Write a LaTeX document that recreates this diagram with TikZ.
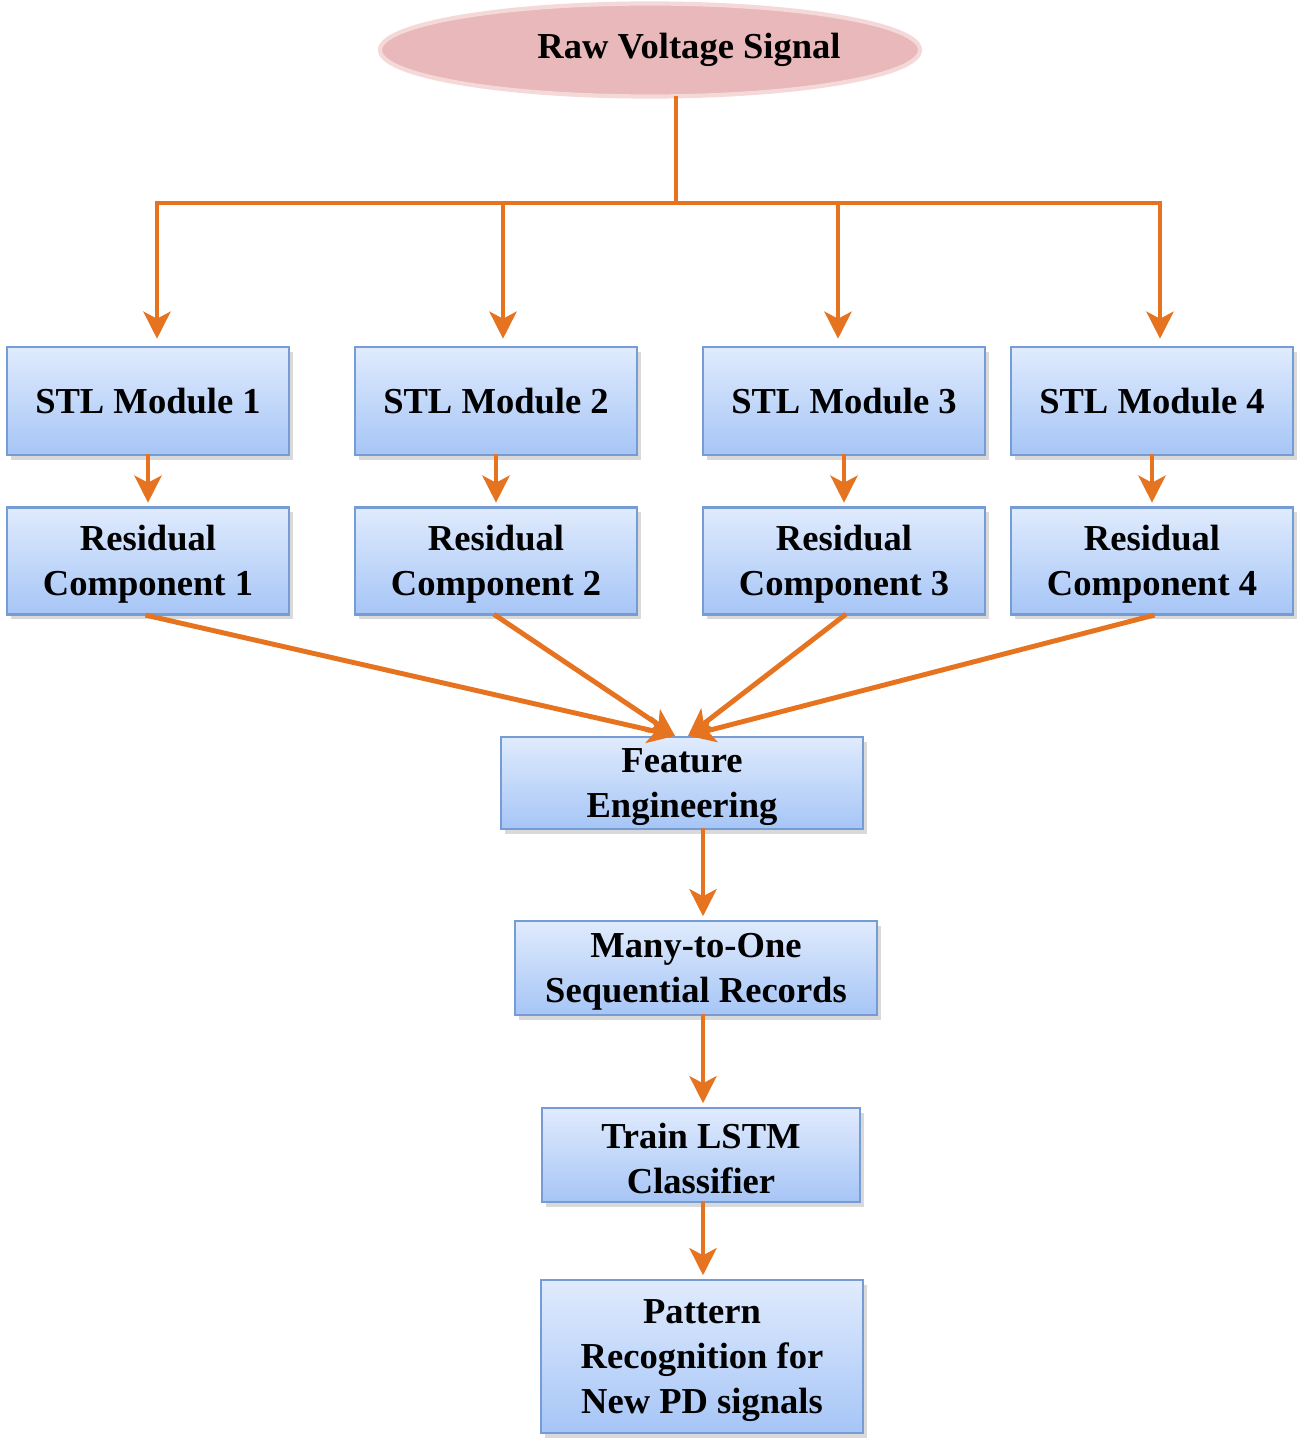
\documentclass[tikz,border=0pt]{standalone}
\usepackage{fontspec}
\setmainfont{Liberation Serif}
\usetikzlibrary{shapes.geometric, arrows.meta, positioning, shadows}
\definecolor{lineOrange}{RGB}{230,115,32}
\definecolor{boxTop}{RGB}{224,235,253}
\definecolor{boxBottom}{RGB}{166,197,246}
\definecolor{boxEdge}{RGB}{118,156,214}
\definecolor{rawFill}{RGB}{232,184,186}
\definecolor{rawEdge}{RGB}{245,216,216}
\tikzstyle{stepBox} = [rectangle, draw=boxEdge, line width=0.7pt,
                top color=boxTop, bottom color=boxBottom,
                drop shadow={shadow xshift=0.04cm, shadow yshift=-0.05cm, opacity=0.3},
                align=center, inner sep=0pt,
                font=\fontsize{10.4}{12.8}\selectfont\bfseries]
\tikzstyle{signalNode} = [ellipse, fill=rawFill, draw=rawEdge, line width=1.2pt,
                minimum width=5.4cm, minimum height=0.93cm]
\tikzstyle{flow} = [line width=1.4pt, draw=lineOrange, line cap=rect]
\tikzstyle{arrow} = [flow, -{Stealth[length=0.27cm, width=0.27cm, inset=0.07cm]}]

\begin{document}
\begin{tikzpicture}
    \useasboundingbox (0,0) rectangle (13,-14.44);
    % input
    \node (raw) [signalNode] at (6.5,-0.5) {};
    \node at ([xshift=0.39cm]raw.center) {\fontsize{10.4}{12.8}\selectfont\bfseries Raw Voltage Signal};
    \coordinate (split) at (6.76,-2.03);
    \coordinate (branch1) at (1.57,-2.03);
    \coordinate (branch2) at (5.03,-2.03);
    \coordinate (branch3) at (8.38,-2.03);
    \coordinate (branch4) at (11.60,-2.03);
    \coordinate (spine) at (7.03,-8.5);

    % decomposition
    \node (stl1) [stepBox, minimum width=2.82cm, minimum height=1.08cm] at (1.48,-4.01) {STL Module 1};
    \node (stl2) [stepBox, minimum width=2.82cm, minimum height=1.08cm] at (4.96,-4.01) {STL Module 2};
    \node (stl3) [stepBox, minimum width=2.82cm, minimum height=1.08cm] at (8.44,-4.01) {STL Module 3};
    \node (stl4) [stepBox, minimum width=2.82cm, minimum height=1.08cm] at (11.52,-4.01) {STL Module 4};
    \node (res1) [stepBox, minimum width=2.82cm, minimum height=1.07cm, below=0.50cm of stl1] {\strut Residual\\Component 1};
    \node (res2) [stepBox, minimum width=2.82cm, minimum height=1.07cm, below=0.50cm of stl2] {\strut Residual\\Component 2};
    \node (res3) [stepBox, minimum width=2.82cm, minimum height=1.07cm, below=0.50cm of stl3] {\strut Residual\\Component 3};
    \node (res4) [stepBox, minimum width=2.82cm, minimum height=1.07cm, below=0.50cm of stl4] {\strut Residual\\Component 4};

    % learning
    \node (feature) [stepBox, minimum width=3.62cm, minimum height=0.92cm] at (6.82,-7.83) {\strut Feature\\Engineering};
    \node (many) [stepBox, minimum width=3.62cm, minimum height=0.94cm] at (6.96,-9.68) {\strut Many-to-One\\Sequential\ Records};
    \node (train) [stepBox, minimum width=3.18cm, minimum height=0.94cm] at (7.01,-11.55) {\strut Train LSTM\\Classifier};
    \node (pattern) [stepBox, minimum width=3.22cm, minimum height=1.53cm] at (7.02,-13.565) {\strut Pattern\\Recognition for\\New PD signals};

    \draw [flow] (raw.south -| split) -- (split);
    \draw [flow] (branch1) -- (branch4);
    \draw [arrow, shorten >=2pt] (branch1) -- (stl1.north -| branch1);
    \draw [arrow, shorten >=2pt] (branch2) -- (stl2.north -| branch2);
    \draw [arrow, shorten >=2pt] (branch3) -- (stl3.north -| branch3);
    \draw [arrow, shorten >=2pt] (branch4) -- (stl4.north -| branch4);

    \draw [arrow, shorten >=1pt] (stl1) -- (res1);
    \draw [arrow, shorten >=1pt] (stl2) -- (res2);
    \draw [arrow, shorten >=1pt] (stl3) -- (res3);
    \draw [arrow, shorten >=1pt] (stl4) -- (res4);

    \draw [arrow] (res1.south) -- ([xshift=-0.07cm]feature.north);
    \draw [arrow] (res2.south) -- ([xshift=-0.07cm]feature.north);
    \draw [arrow] (res3.south) -- ([xshift=0.06cm]feature.north);
    \draw [arrow] (res4.south) -- ([xshift=0.06cm]feature.north);

    \draw [arrow, shorten >=1pt] (feature.south -| spine) -- (many.north -| spine);
    \draw [arrow, shorten >=1pt] (many.south -| spine) -- (train.north -| spine);
    \draw [arrow, shorten >=1pt] (train.south -| spine) -- (pattern.north -| spine);
\end{tikzpicture}
\end{document}
